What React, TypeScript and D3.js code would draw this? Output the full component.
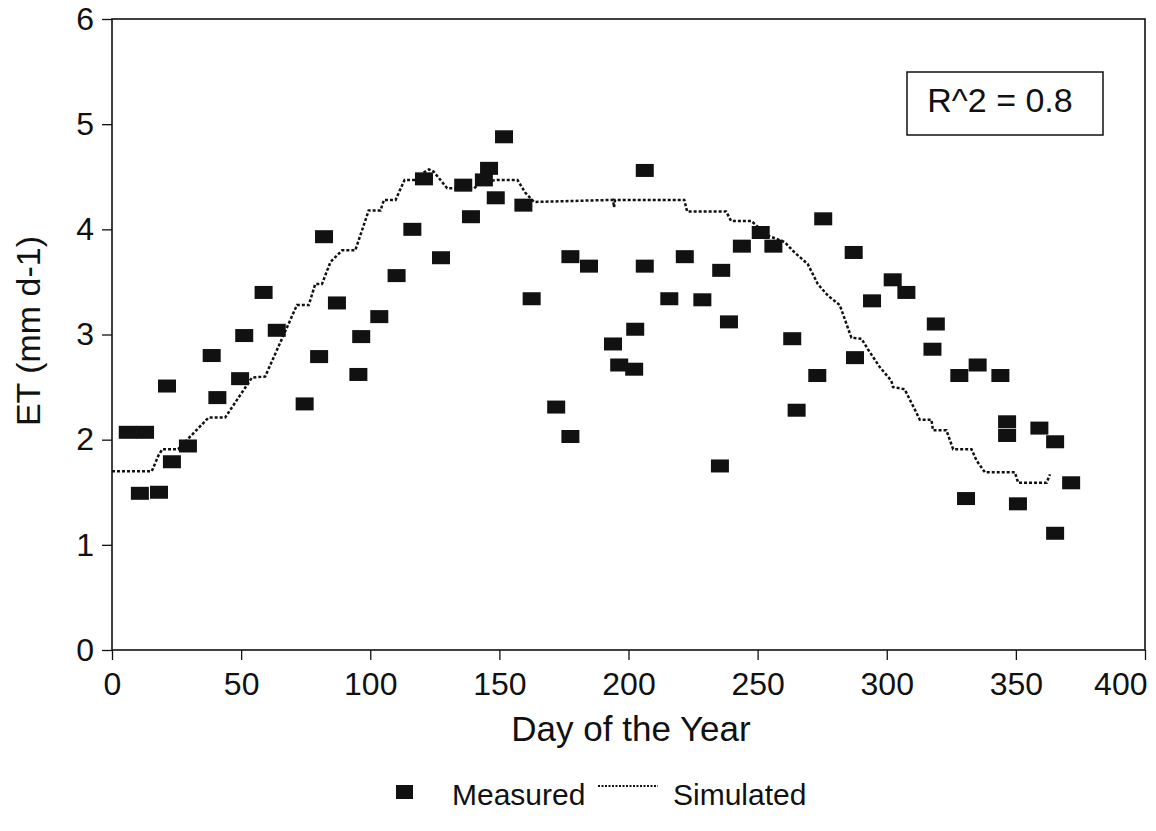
import React, { useEffect, useRef } from "react";
import * as d3 from "d3";

// measured ET
const measuredDay = [
  6.1, 12.8, 10.8, 18.2, 21.3, 23.2, 29.4, 38.6, 40.8, 51.2, 49.6, 58.7, 63.8,
  74.6, 80.2, 87.1, 95.4, 96.5, 103.5, 110.2, 82.1, 116.3, 127.4, 120.8, 136.0,
  139.0, 146.0, 144.0, 148.6, 151.8, 159.3, 162.5, 172.0, 177.5, 177.5, 184.7,
  194.0, 202.6, 196.4, 202.2, 206.3, 206.3, 215.8, 221.8, 228.6, 235.4, 235.9,
  238.9, 243.9, 251.2, 256.1, 263.4, 265.1, 275.4, 287.2, 273.1, 287.7, 294.3,
  302.3, 307.6, 319.0, 317.7, 328.1, 335.2, 344.0, 346.6, 346.6, 359.1, 365.2,
  371.4, 330.7, 350.8, 365.2,
];
const measuredET = [
  2.07, 2.07, 1.49, 1.5, 2.51, 1.79, 1.94, 2.8, 2.4, 2.99, 2.58, 3.4, 3.04,
  2.34, 2.79, 3.3, 2.62, 2.98, 3.17, 3.56, 3.93, 4.0, 3.73, 4.48, 4.42,
  4.12, 4.58, 4.47, 4.3, 4.88, 4.23, 3.34, 2.31, 2.03, 3.74, 3.65,
  2.91, 3.05, 2.71, 2.67, 4.56, 3.65, 3.34, 3.74, 3.33, 1.75, 3.61,
  3.12, 3.84, 3.97, 3.84, 2.96, 2.28, 4.1, 3.78, 2.61, 2.78, 3.32,
  3.52, 3.4, 3.1, 2.86, 2.61, 2.71, 2.61, 2.17, 2.04, 2.11, 1.98,
  1.59, 1.44, 1.39, 1.11,
];

// simulated ET, corners of the stepped dotted line
const simDay = [
  0, 15.4, 18, 19.5, 25.6, 37.4, 43.8, 54.2, 59.3, 71.6, 76.2, 78.7, 81.3, 84.6,
  89.1, 94.2, 99.4, 104, 105.3, 109.8, 113.3, 118.2, 120, 122.7, 124.5, 129.8,
  140.2, 143, 149.2, 157, 160, 163.4, 194, 194.4, 194.8, 221.6, 222.7, 237.8,
  239.7, 247.5, 254, 260.4, 264.3, 269.4, 273.3, 277.2, 281.8, 286.3, 290.2,
  292.7, 297.3, 301.8, 302.4, 306.9, 310.8, 312.8, 317.3, 317.9, 323.1, 325.7,
  332.8, 334.8, 338, 349.6, 350.9, 361.9, 363.2,
];
const simET = [
  1.7, 1.7, 1.85, 1.91, 1.91, 2.21, 2.21, 2.59, 2.6, 3.28, 3.28, 3.48, 3.48, 3.69,
  3.8, 3.8, 4.18, 4.18, 4.28, 4.28, 4.47, 4.47, 4.53, 4.57, 4.55, 4.39,
  4.39, 4.45, 4.47, 4.47, 4.35, 4.26, 4.28, 4.21, 4.28, 4.28, 4.17, 4.17,
  4.08, 4.08, 3.94, 3.88, 3.78, 3.67, 3.48, 3.37, 3.28, 2.97, 2.96,
  2.86, 2.69, 2.56, 2.5, 2.48, 2.29, 2.19, 2.19, 2.09, 2.09, 1.91,
  1.91, 1.8, 1.69, 1.69, 1.59, 1.59, 1.67,
];

const xTicks = [0, 50, 100, 150, 200, 250, 300, 350, 400];
const yTicks = [0, 1, 2, 3, 4, 5, 6];

const width = 1156,
  height = 831;
const font = "'Liberation Sans', Arial, Helvetica, sans-serif";
const ink = "#111";

export default function App() {
  const svgRef = useRef(null);

  useEffect(() => {
    const svg = d3.select(svgRef.current);
    svg.selectAll("*").remove();

    const x = d3.scaleLinear().domain([0, 400]).range([112, 1145]);
    const y = d3.scaleLinear().domain([0, 6]).range([650, 19]);

    // x axis
    const xAxis = svg
      .append("g")
      .attr("transform", `translate(0,${y(0)})`)
      .call(d3.axisBottom(x).tickValues(xTicks).tickFormat(d3.format("d")).tickSize(10).tickPadding(12))
      .call(g => g.select(".domain").remove());
    xAxis.selectAll("line").attr("stroke", ink).attr("stroke-width", 1.3);
    xAxis
      .selectAll("text")
      .attr("font-size", 32)
      .attr("font-family", font)
      .attr("fill", ink);
    xAxis
      .select(".tick:last-of-type text")
      .attr("text-anchor", "end")
      .attr("x", 2);

    // y axis
    const yAxis = svg
      .append("g")
      .attr("transform", `translate(${x(0)},0)`)
      .call(d3.axisLeft(y).tickValues(yTicks).tickFormat(d3.format("d")).tickSize(10).tickPadding(8))
      .call(g => g.select(".domain").remove());
    yAxis.selectAll("line").attr("stroke", ink).attr("stroke-width", 1.3);
    yAxis
      .selectAll("text")
      .attr("font-size", 32)
      .attr("font-family", font)
      .attr("fill", ink);

    // frame
    svg
      .append("rect")
      .attr("x", x(0))
      .attr("y", y(6))
      .attr("width", x(400) - x(0))
      .attr("height", y(0) - y(6))
      .attr("fill", "none")
      .attr("stroke", ink)
      .attr("stroke-width", 1.6);

    // simulated line
    const line = d3
      .line()
      .x(d => x(d[0]))
      .y(d => y(d[1]));
    svg
      .append("path")
      .datum(simDay.map((d, i) => [d, simET[i]]))
      .attr("fill", "none")
      .attr("stroke", ink)
      .attr("stroke-width", 2.5)
      .attr("stroke-dasharray", "3 2")
      .attr("d", line);

    // measured squares
    svg
      .append("g")
      .selectAll("rect")
      .data(measuredDay.map((d, i) => [d, measuredET[i]]))
      .join("rect")
      .attr("x", d => x(d[0]) - 9)
      .attr("y", d => y(d[1]) - 6.5)
      .attr("width", 18)
      .attr("height", 13)
      .attr("fill", ink);

    // R^2 box
    svg
      .append("rect")
      .attr("x", 907)
      .attr("y", 72)
      .attr("width", 196)
      .attr("height", 63)
      .attr("fill", "#fff")
      .attr("stroke", ink)
      .attr("stroke-width", 1.5);
    svg
      .append("text")
      .attr("x", 1000)
      .attr("y", 112)
      .attr("text-anchor", "middle")
      .attr("font-size", 34)
      .attr("font-family", font)
      .attr("fill", ink)
      .text("R^2 = 0.8");

    // axis titles
    svg
      .append("text")
      .attr("transform", "translate(40,331) rotate(-90)")
      .attr("text-anchor", "middle")
      .attr("font-size", 34)
      .attr("font-family", font)
      .attr("fill", ink)
      .text("ET (mm d-1)");
    svg
      .append("text")
      .attr("x", 631)
      .attr("y", 741)
      .attr("text-anchor", "middle")
      .attr("font-size", 35)
      .attr("font-family", font)
      .attr("fill", ink)
      .text("Day of the Year");

    // legend
    const lg = svg.append("g").attr("font-family", font).attr("font-size", 30).attr("fill", ink);
    lg.append("rect").attr("x", 396).attr("y", 785).attr("width", 17).attr("height", 14).attr("fill", ink);
    lg.append("text").attr("x", 452).attr("y", 805).text("Measured");
    lg.append("line")
      .attr("x1", 598)
      .attr("x2", 658)
      .attr("y1", 786)
      .attr("y2", 786)
      .attr("stroke", ink)
      .attr("stroke-width", 2)
      .attr("stroke-dasharray", "2 1.5");
    lg.append("text").attr("x", 673).attr("y", 805).text("Simulated");
  }, []);

  return (
    <svg
      ref={svgRef}
      width={width}
      height={height}
      style={{ position: "absolute", left: 0, top: 0, background: "#fff" }}
    />
  );
}
